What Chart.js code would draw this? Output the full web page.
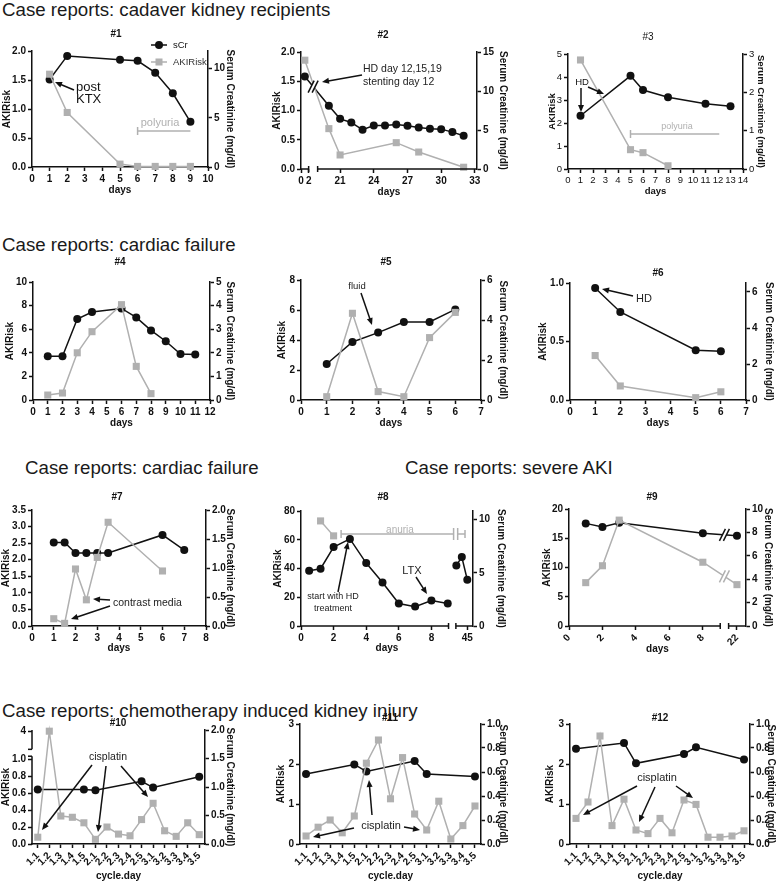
<!DOCTYPE html>
<html>
<head>
<meta charset="utf-8">
<title>AKIRisk case reports</title>
<script src="https://cdn.jsdelivr.net/npm/chart.js@4.4.1/dist/chart.umd.min.js"></script>
<style>
  body { margin: 0; width: 778px; height: 882px; position: relative; overflow: hidden; background: #fff;
         font-family: "Liberation Sans", Arial, sans-serif; }
  .hdr { position: absolute; font-size: 18.7px; line-height: 20px; color: #1a1a1a; white-space: nowrap; }
</style>
</head>
<body>
<div class="hdr" style="left:2px;top:0px">Case reports: cadaver kidney recipients</div>
<div class="hdr" style="left:2px;top:235px">Case reports: cardiac failure</div>
<div class="hdr" style="left:25px;top:458px">Case reports: cardiac failure</div>
<div class="hdr" style="left:405px;top:458px">Case reports: severe AKI</div>
<div class="hdr" style="left:2px;top:701px">Case reports: chemotherapy induced kidney injury</div>
<script>
const FAMILY = '"Liberation Sans", Arial, sans-serif';
const BLACK = '#111';
const GREY = '#b0b0b0';
Chart.defaults.font.family = FAMILY;
Chart.defaults.animation = false;

// ---------- values ----------
// #1
const DAYS1 = [1, 2, 5, 6, 7, 8, 9];
const SCR1 = [8.9, 11.3, 10.9, 10.8, 9.6, 7.5, 4.6];
const AKI1 = [1.6, 0.94, 0.05, 0.01, 0.01, 0.01, 0.01];
// #2
const SCR2_DAYS = [1, 20, 21, 22, 23, 24, 25, 26, 27, 28, 29, 30, 31, 32];
const SCR2 = [11.85, 8.1, 6.43, 5.96, 5.03, 5.58, 5.58, 5.71, 5.54, 5.33, 5.16, 5.11, 4.73, 4.26];
const AKI2_DAYS = [1, 20, 21, 26, 28, 32];
const AKI2 = [1.86, 0.69, 0.24, 0.45, 0.29, 0.03];
// #3
const SCR3_DAYS = [1, 5, 6, 8, 11, 13];
const SCR3 = [1.39, 2.43, 2.06, 1.87, 1.70, 1.64];
const AKI3_DAYS = [1, 5, 6, 8];
const AKI3 = [4.74, 0.84, 0.71, 0.14];
// #4
const SCR4_DAYS = [1, 2, 3, 4, 6, 7, 8, 9, 10, 11];
const SCR4 = [1.85, 1.85, 3.43, 3.73, 3.88, 3.5, 2.95, 2.49, 1.95, 1.93];
const AKI4_DAYS = [1, 2, 3, 4, 6, 7, 8];
const AKI4 = [0.42, 0.59, 4.0, 5.79, 8.08, 2.85, 0.54];
// #5
const DAYS5 = [1, 2, 3, 4, 5, 6];
const SCR5 = [1.8, 2.9, 3.37, 3.9, 3.9, 4.53];
const AKI5 = [0.22, 5.78, 0.56, 0.22, 4.16, 5.84];
// #6
const DAYS6 = [1, 2, 5, 6];
const SCR6 = [6.22, 4.89, 2.77, 2.71];
const AKI6 = [0.38, 0.12, 0.02, 0.07];
// #7
const SCR7_DAYS = [1, 1.5, 2, 2.5, 3, 3.5, 6, 7];
const SCR7 = [1.44, 1.44, 1.26, 1.26, 1.26, 1.26, 1.57, 1.31];
const AKI7_DAYS = [1, 1.5, 2, 2.5, 3, 3.5, 6];
const AKI7 = [0.22, 0.08, 1.72, 0.79, 2.07, 3.13, 1.66];
// #8
const SCR8_DAYS = [0.5, 1.2, 2, 3, 4, 5, 6, 7, 8, 9, 43, 44, 45];
const SCR8 = [5.19, 5.38, 7.42, 8.18, 5.91, 4.09, 2.11, 1.82, 2.39, 2.11, 5.69, 6.48, 4.34];
const AKI8_DAYS = [1.2, 2];
const AKI8 = [73.1, 62.7];
// #9
const DAYS9 = [1, 2, 3, 8, 22];
const SCR9 = [8.77, 8.46, 8.83, 7.92, 7.72];
const AKI9 = [7.41, 10.3, 18.1, 10.9, 7.07];
// #10 - #12 (cycle.day)
const CYCLE = ['1.1', '1.2', '1.3', '1.4', '1.5', '2.1', '2.2', '2.3', '2.4', '2.5', '3.1', '3.2', '3.3', '3.4', '3.5'];
const SCR10 = [0.955, null, null, null, 0.955, 0.944, null, null, null, 1.10, 0.99, null, null, null, 1.18];
const AKI10 = [0.08, 4, 0.33, 0.315, 0.25, 0.055, 0.2, 0.117, 0.097, 0.288, 0.48, 0.156, 0.09, 0.25, 0.11];
const SCR11 = [0.583, null, null, null, 0.663, 0.605, null, null, null, 0.691, 0.583, null, null, null, 0.563];
const AKI11 = [0.2, 0.42, 0.6, 0.28, 0.7, 2.02, 2.6, 1.13, 2.16, 0.75, 0.35, 1.07, 0.125, 0.46, 0.95];
const SCR12 = [0.794, null, null, null, 0.842, 0.672, null, null, null, 0.75, 0.806, null, null, null, 0.705];
const AKI12 = [0.64, 1.05, 2.7, 0.46, 1.12, 0.35, 0.26, 0.64, 0.28, 1.1, 0.99, 0.17, 0.17, 0.2, 0.33];

// ---------- tick values / labels ----------
const XT1 = [0, 1, 2, 3, 4, 5, 6, 7, 8, 9, 10];
const XT2 = [0, 2, 21, 24, 27, 30, 33];
const XT3 = [0, 1, 2, 3, 4, 5, 6, 7, 8, 9, 10, 11, 12, 13, 14];
const XT4 = [0, 1, 2, 3, 4, 5, 6, 7, 8, 9, 10, 11, 12];
const XT5 = [0, 1, 2, 3, 4, 5, 6, 7];
const XT7 = [0, 1, 2, 3, 4, 5, 6, 7, 8];
const XT8 = [0, 2, 4, 6, 8, 45];
const XT9 = [0, 2, 4, 6, 8, 22];
const YL_2 = [0, 0.5, 1, 1.5, 2];
const YR1 = [0, 5, 10];
const YR2 = [0, 5, 10, 15];
const YL3 = [0, 1, 2, 3, 4, 5];
const YR3 = [0, 1, 2, 3];
const YL4 = [0, 2, 4, 6, 8, 10];
const YR4 = [0, 1, 2, 3, 4, 5];
const YL5 = [0, 2, 4, 6, 8];
const YR5 = [0, 2, 4, 6];
const YL6 = [0, 0.5, 1];
const YR6 = [0, 2, 4, 6];
const YL7 = [0, 0.5, 1, 1.5, 2, 2.5, 3, 3.5];
const YR7 = [0, 0.5, 1, 1.5, 2];
const YL8 = [0, 20, 40, 60, 80];
const YR8 = [0, 5, 10];
const YL9 = [0, 5, 10, 15, 20];
const YR9 = [0, 2, 4, 6, 8, 10];
const YL10 = [0, 0.2, 0.4, 0.6, 0.8, 1.0, 1.33];
const YL10_LABELS = ['0.0', '0.2', '0.4', '0.6', '0.8', '1.0', '4'];
const YR10 = [0, 0.5, 1, 1.5, 2];
const YL11 = [0, 1, 2, 3];
const YR11 = [0, 0.2, 0.4, 0.6, 0.8, 1];

// broken axes: day -> axis position
const map2 = d => d <= 2 ? d * 0.341 : d - 17.52;
const map8 = d => d <= 10 ? d : 10.2 + (d - 45) * 0.336;
const map9 = d => d <= 10 ? d : d - 11.96;
const map10 = v => v > 1.2 ? 1.33 + (v - 4) * 0.05 : v;

// ---------- drawing helpers ----------
function label(c, s, x, y, size, color, align, weight) {
  c.font = (weight || 'normal') + ' ' + size + 'px ' + FAMILY;
  c.fillStyle = color || BLACK;
  c.textAlign = align || 'center';
  c.textBaseline = 'middle';
  c.fillText(s, x, y);
}
function seg(c, x1, y1, x2, y2, color) {
  c.strokeStyle = color; c.lineWidth = 1.5;
  c.beginPath(); c.moveTo(x1, y1); c.lineTo(x2, y2); c.stroke();
}
function arrow(c, x1, y1, x2, y2) {
  const a = Math.atan2(y2 - y1, x2 - x1), h = 7, w = 3;
  seg(c, x1, y1, x2 - Math.cos(a) * 5, y2 - Math.sin(a) * 5, BLACK);
  c.fillStyle = BLACK;
  c.beginPath();
  c.moveTo(x2, y2);
  c.lineTo(x2 - h * Math.cos(a) + w * Math.sin(a), y2 - h * Math.sin(a) - w * Math.cos(a));
  c.lineTo(x2 - h * Math.cos(a) - w * Math.sin(a), y2 - h * Math.sin(a) + w * Math.cos(a));
  c.closePath(); c.fill();
}
function rangeBar(c, xa, xb, y) {
  seg(c, xa, y, xb, y, GREY);
  seg(c, xa, y - 4, xa, y + 4, GREY);
}
function cutAt(c, h, ds, k, px, color) {
  const p = h.pt(ds, k), q = h.pt(ds, k + 1);
  const y = p.y + (q.y - p.y) * (px - p.x) / (q.x - p.x);
  c.fillStyle = '#fff';
  c.beginPath();
  c.moveTo(px - 5, y + 6); c.lineTo(px + 1, y - 6); c.lineTo(px + 5, y - 6); c.lineTo(px - 1, y + 6);
  c.closePath(); c.fill();
  seg(c, px - 5, y + 6, px + 1, y - 6, color);
  seg(c, px - 1, y + 6, px + 5, y - 6, color);
}
function xBreak(c, h, g) {
  const y = h.B, a = h.sxp(g[0]), b = h.sxp(g[1]);
  seg(c, h.L, y, a, y, BLACK); seg(c, a, y - 3, a, y + 3, BLACK);
  seg(c, b, y, h.R, y, BLACK); seg(c, b, y - 3, b, y + 3, BLACK);
}

// build {x,y} points; "split" leaves the line open across an axis break
function series(xs, ys, map, split) {
  if (!xs) return ys;
  const out = [];
  xs.forEach((d, i) => {
    if (split && i > 0 && xs[i - 1] < split && d > split) out.push({ x: (map(xs[i - 1]) + map(d)) / 2, y: null });
    out.push({ x: map ? map(d) : d, y: ys[i] });
  });
  return out;
}

function panel(o) {
  const x0 = o.lt - 6, y0 = o.top;
  const W = o.rt + 6 - x0, H = o.bt + 6 - y0;
  const cv = document.createElement('canvas');
  cv.width = W; cv.height = H;
  cv.style.cssText = 'position:absolute;left:' + x0 + 'px;top:' + y0 + 'px;width:' + W + 'px;height:' + H + 'px';
  document.body.appendChild(cv);

  const fs = o.fs || 10;
  const font = { size: fs, weight: 'bold' };
  const tickFont = { size: fs, weight: o.tickWeight || 'bold' };
  const grid = { drawOnChartArea: false, drawTicks: true, tickLength: 4, tickColor: BLACK, tickWidth: 1.5 };
  const ttl = text => ({ display: true, text: text, padding: 0, color: BLACK, font: font });
  const fmt = (a, i) => a.labels ? a.labels[i] : (a.dec ? a.ticks[i].toFixed(a.dec) : String(a.ticks[i]));
  const yax = (pos, a, w, title) => ({
    type: 'linear', position: pos, min: a.min, max: a.max,
    afterBuildTicks: s => { s.ticks = a.ticks.map(v => ({ value: v })); },
    afterFit: s => { s.width = w; },
    ticks: { font: tickFont, color: BLACK, padding: 2, callback: (v, i) => fmt(a, i) },
    grid: grid, border: { display: !a.cut, color: BLACK, width: 1.5 },
    title: ttl(title)
  });

  const xa = o.x;
  const x = {
    type: xa.labels ? 'category' : 'linear', position: 'bottom', offset: !!xa.labels,
    afterFit: s => { s.height = o.bt + 6 - o.box.b; },
    ticks: { font: tickFont, color: BLACK, padding: 2, autoSkip: false, minRotation: xa.rot || 0, maxRotation: xa.rot || 0 },
    grid: grid, border: { display: !xa.gap, color: BLACK, width: 1.5 },
    title: ttl(xa.title || 'days')
  };
  if (!xa.labels) {
    x.min = xa.min; x.max = xa.max;
    x.afterBuildTicks = s => { s.ticks = xa.ticks.map(v => ({ value: xa.map ? xa.map(v) : v })); };
    x.ticks.callback = (v, i) => String(xa.ticks[i]);
  }

  const data = {
    datasets: [
      { label: 'AKIRisk', data: series(o.aki[0], o.aki[1], xa.map, xa.split), yAxisID: 'yl',
        borderColor: GREY, backgroundColor: GREY, borderWidth: 1.5, pointStyle: 'rect', pointRadius: 5,
        pointBorderWidth: 0, order: 1, clip: false },
      { label: 'sCr', data: series(o.scr[0], o.scr[1], xa.map, xa.split), yAxisID: 'yr',
        borderColor: BLACK, backgroundColor: BLACK, borderWidth: 1.5, pointStyle: 'circle', pointRadius: 4,
        pointBorderWidth: 0, order: 2, clip: false, spanGaps: !!xa.labels }
    ]
  };
  if (xa.labels) data.labels = xa.labels;

  const deco = {
    id: 'deco',
    afterDraw(chart) {
      const c = chart.ctx, a = chart.chartArea;
      c.save();
      c.translate(-x0, -y0);
      const h = {
        sx: v => chart.scales.x.getPixelForValue(xa.map ? xa.map(v) : v) + x0,
        sxp: p => chart.scales.x.getPixelForValue(p) + x0,
        syl: v => chart.scales.yl.getPixelForValue(v) + y0,
        L: a.left + x0, R: a.right + x0, T: a.top + y0, B: a.bottom + y0,
        pt: (ds, k) => { const e = chart.getDatasetMeta(ds).data[k]; return { x: e.x + x0, y: e.y + y0 }; }
      };
      label(c, o.title, o.tx, o.ty, 10, BLACK, 'center', o.titleWeight || 'bold');
      if (xa.gap) xBreak(c, h, xa.gap);
      if (o.deco) o.deco(c, h);
      c.restore();
    }
  };

  return new Chart(cv.getContext('2d'), {
    type: 'line',
    data: data,
    options: {
      responsive: false,
      animation: false,
      layout: { padding: { top: o.box.t - o.top, left: 0, right: 0, bottom: 0 } },
      elements: { line: { tension: 0 } },
      plugins: { legend: { display: false }, tooltip: { enabled: false } },
      scales: {
        x: x,
        yl: yax('left', o.yl, o.box.l - x0, 'AKIRisk'),
        yr: yax('right', o.yr, o.rt + 6 - o.box.r, 'Serum Creatinine (mg/dl)')
      }
    },
    plugins: [deco]
  });
}

// ---------- row 1 ----------
panel({
  title: '#1', tx: 116, ty: 34, top: 28, lt: 7, rt: 230, bt: 190,
  box: { l: 32, t: 51, r: 208, b: 167 },
  x: { min: 0, max: 10, ticks: XT1 },
  yl: { min: 0, max: 2, ticks: YL_2, dec: 1 },
  yr: { min: 0, max: 11.8, ticks: YR1 },
  aki: [DAYS1, AKI1], scr: [DAYS1, SCR1],
  deco: (c, h) => {
    seg(c, 151, 45, 167, 45, BLACK);
    c.fillStyle = BLACK; c.beginPath(); c.arc(159, 45, 4, 0, Math.PI * 2); c.fill();
    label(c, 'sCr', 173, 45, 9.5, BLACK, 'left');
    seg(c, 151, 62, 167, 62, GREY);
    c.fillStyle = GREY; c.fillRect(155.5, 58.5, 7, 7);
    label(c, 'AKIRisk', 173, 62, 9.5, '#333', 'left');
    label(c, 'post', 76, 87, 13, BLACK, 'left');
    label(c, 'KTX', 76, 99, 13, BLACK, 'left');
    arrow(c, 74, 90, 55, 82);
    label(c, 'polyuria', 160, 123, 11, GREY);
    rangeBar(c, h.sx(6), h.sx(9), 131);
  }
});

panel({
  title: '#2', tx: 383, ty: 35, top: 28, lt: 277, rt: 503, bt: 192,
  box: { l: 301, t: 52, r: 477, b: 169 },
  x: { min: 0, max: 15.67, ticks: XT2, map: map2, gap: [0.68, 1.48] },
  yl: { min: 0, max: 2, ticks: YL_2, dec: 1 },
  yr: { min: 0, max: 15, ticks: YR2 },
  aki: [AKI2_DAYS, AKI2], scr: [SCR2_DAYS, SCR2],
  deco: (c, h) => {
    label(c, 'HD day 12,15,19', 363, 69, 10.5, '#222', 'left');
    label(c, 'stenting day 12', 363, 82, 10.5, '#222', 'left');
    arrow(c, 362, 75, 322, 82);
    cutAt(c, h, 1, 0, h.sxp(1.08), BLACK);
  }
});

panel({
  title: '#3', tx: 648, ty: 37, top: 28, lt: 553, rt: 760, bt: 191, fs: 9.5, titleWeight: 'normal', tickWeight: 'normal',
  box: { l: 568, t: 54, r: 743, b: 169 },
  x: { min: 0, max: 14, ticks: XT3 },
  yl: { min: 0, max: 5, ticks: YL3 },
  yr: { min: 0, max: 3, ticks: YR3 },
  aki: [AKI3_DAYS, AKI3], scr: [SCR3_DAYS, SCR3],
  deco: (c, h) => {
    label(c, 'HD', 582, 82, 9.5, BLACK);
    arrow(c, 581, 88, 581, 112);
    arrow(c, 588, 87, 604, 94);
    label(c, 'polyuria', 677, 127, 9, GREY);
    rangeBar(c, h.sx(5), h.sx(12.1), 134);
  }
});

// ---------- row 2 ----------
panel({
  title: '#4', tx: 120, ty: 262, top: 252, lt: 10, rt: 230, bt: 423,
  box: { l: 33, t: 282, r: 210, b: 400 },
  x: { min: 0, max: 12, ticks: XT4 },
  yl: { min: 0, max: 10, ticks: YL4 },
  yr: { min: 0, max: 5, ticks: YR4 },
  aki: [AKI4_DAYS, AKI4], scr: [SCR4_DAYS, SCR4]
});

panel({
  title: '#5', tx: 386, ty: 262, top: 252, lt: 282, rt: 503, bt: 423,
  box: { l: 301, t: 280, r: 481, b: 400 },
  x: { min: 0, max: 7, ticks: XT5 },
  yl: { min: 0, max: 8, ticks: YL5 },
  yr: { min: 0, max: 6, ticks: YR5 },
  aki: [DAYS5, AKI5], scr: [DAYS5, SCR5],
  deco: (c, h) => {
    label(c, 'fluid', 357, 286, 9.5, '#222');
    arrow(c, 361, 293, 372, 325);
  }
});

panel({
  title: '#6', tx: 658, ty: 273, top: 252, lt: 543, rt: 769, bt: 423,
  box: { l: 570, t: 283, r: 746, b: 400 },
  x: { min: 0, max: 7, ticks: XT5 },
  yl: { min: 0, max: 1, ticks: YL6, dec: 1 },
  yr: { min: 0, max: 6.5, ticks: YR6 },
  aki: [DAYS6, AKI6], scr: [DAYS6, SCR6],
  deco: (c, h) => {
    label(c, 'HD', 636, 299, 11, '#222', 'left');
    arrow(c, 633, 296, 602, 289);
  }
});

// ---------- row 3 ----------
panel({
  title: '#7', tx: 117, ty: 497, top: 488, lt: 6, rt: 230, bt: 648,
  box: { l: 32, t: 510, r: 206, b: 626 },
  x: { min: 0, max: 8, ticks: XT7 },
  yl: { min: 0, max: 3.5, ticks: YL7, dec: 1 },
  yr: { min: 0, max: 2, ticks: YR7, dec: 1 },
  aki: [AKI7_DAYS, AKI7], scr: [SCR7_DAYS, SCR7],
  deco: (c, h) => {
    label(c, 'contrast media', 113, 603, 10.5, '#222', 'left');
    arrow(c, 110, 600, 93, 599);
    arrow(c, 110, 606, 71, 619);
  }
});

panel({
  title: '#8', tx: 383, ty: 497, top: 488, lt: 278, rt: 501, bt: 648,
  box: { l: 301, t: 511, r: 473, b: 626 },
  x: { min: 0, max: 10.55, ticks: XT8, map: map8, gap: [9.05, 9.5], split: 20 },
  yl: { min: 0, max: 80, ticks: YL8 },
  yr: { min: 0, max: 10.8, ticks: YR8 },
  aki: [AKI8_DAYS, AKI8], scr: [SCR8_DAYS, SCR8],
  deco: (c, h) => {
    const y = 534;
    rangeBar(c, h.sx(2.46), h.sxp(9.36), y);
    seg(c, h.sxp(9.36), y - 6, h.sxp(9.36), y + 6, GREY);
    seg(c, h.sxp(9.61), y - 6, h.sxp(9.61), y + 6, GREY);
    seg(c, h.sxp(9.61), y, h.sxp(10.06), y, GREY);
    seg(c, h.sxp(10.06), y - 4, h.sxp(10.06), y + 4, GREY);
    label(c, 'anuria', 400, 530, 10, GREY);
    label(c, 'start with HD', 333, 597, 9, '#222');
    label(c, 'treatment', 333, 609, 9, '#222');
    arrow(c, 338, 592, 348, 542);
    label(c, 'LTX', 412, 571, 11, '#222');
    arrow(c, 416, 577, 427, 594);
  }
});

panel({
  title: '#9', tx: 652, ty: 497, top: 488, lt: 547, rt: 768, bt: 649,
  box: { l: 569, t: 509, r: 746, b: 626 },
  x: { min: 0, max: 10.58, ticks: XT9, map: map9, gap: [9.04, 9.54], rot: 45 },
  yl: { min: 0, max: 20, ticks: YL9 },
  yr: { min: 0, max: 10, ticks: YR9 },
  aki: [DAYS9, AKI9], scr: [DAYS9, SCR9],
  deco: (c, h) => {
    cutAt(c, h, 1, 3, h.sxp(9.29), BLACK);
    cutAt(c, h, 0, 3, h.sxp(9.29), GREY);
  }
});

// ---------- row 4 ----------
panel({
  title: '#10', tx: 118, ty: 723, top: 712, lt: 6, rt: 230, bt: 876,
  box: { l: 32, t: 730, r: 205, b: 844 },
  x: { labels: CYCLE, rot: 45, title: 'cycle.day' },
  yl: { min: 0, max: 1.344, ticks: YL10, labels: YL10_LABELS, cut: true },
  yr: { min: 0, max: 2, ticks: YR10, dec: 1 },
  aki: [null, AKI10.map(map10)], scr: [null, SCR10],
  deco: (c, h) => {
    const ya = h.syl(1.035), yb = h.syl(1.116);
    seg(c, h.L, h.B + 0.75, h.L, ya, BLACK); seg(c, h.L - 4, ya, h.L, ya, BLACK);
    seg(c, h.L, yb, h.L, h.T, BLACK); seg(c, h.L - 4, yb, h.L, yb, BLACK);
    label(c, 'cisplatin', 108, 757, 10.5, '#222');
    arrow(c, 92, 765, 42, 830);
    arrow(c, 106, 766, 98, 832);
    arrow(c, 121, 766, 148, 797);
  }
});

panel({
  title: '#11', tx: 390, ty: 718, top: 708, lt: 281, rt: 503, bt: 876,
  box: { l: 300, t: 724, r: 481, b: 844 },
  x: { labels: CYCLE, rot: 45, title: 'cycle.day' },
  yl: { min: 0, max: 3, ticks: YL11 },
  yr: { min: 0, max: 1, ticks: YR11, dec: 1 },
  aki: [null, AKI11], scr: [null, SCR11],
  deco: (c, h) => {
    label(c, 'cisplatin', 381, 826, 11, '#222');
    arrow(c, 354, 828, 313, 837);
    arrow(c, 372, 815, 369, 780);
    arrow(c, 404, 827, 420, 830);
  }
});

panel({
  title: '#12', tx: 660, ty: 718, top: 708, lt: 550, rt: 771, bt: 876,
  box: { l: 570, t: 724, r: 750, b: 844 },
  x: { labels: CYCLE, rot: 45, title: 'cycle.day' },
  yl: { min: 0, max: 3, ticks: YL11 },
  yr: { min: 0, max: 1, ticks: YR11, dec: 1 },
  aki: [null, AKI12], scr: [null, SCR12],
  deco: (c, h) => {
    label(c, 'cisplatin', 657, 778, 11, '#222');
    arrow(c, 637, 786, 583, 815);
    arrow(c, 655, 787, 639, 822);
    arrow(c, 676, 786, 693, 798);
  }
});
</script>
</body>
</html>
